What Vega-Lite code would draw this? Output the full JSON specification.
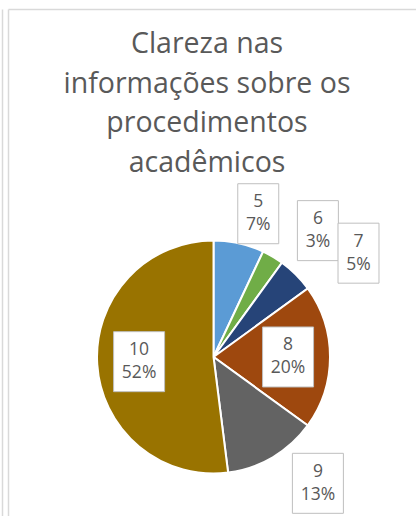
{
  "$schema": "https://vega.github.io/schema/vega-lite/v6.json",
  "width": 408,
  "height": 507,
  "autosize": "none",
  "padding": {"left": 8, "top": 9, "right": 0, "bottom": 0},
  "background": "white",
  "title": {
    "text": ["Clareza nas", "informações sobre os", "procedimentos", "acadêmicos"],
    "orient": "top",
    "anchor": "middle",
    "frame": "group",
    "offset": -168,
    "dx": -5,
    "font": "Open Sans",
    "fontSize": 28.5,
    "fontWeight": "normal",
    "color": "#595959",
    "lineHeight": 39.5
  },
  "config": {
    "view": {"stroke": null},
    "axis": {"domainColor": "#d9d9d9", "domainWidth": 1.5, "ticks": false, "labels": false, "grid": false, "title": null}
  },
  "data": {
    "values": [
      {"nota": 5, "pct": 7},
      {"nota": 6, "pct": 3},
      {"nota": 7, "pct": 5},
      {"nota": 8, "pct": 20},
      {"nota": 9, "pct": 13},
      {"nota": 10, "pct": 52}
    ]
  },
  "transform": [
    {"joinaggregate": [{"op": "sum", "field": "pct", "as": "total"}]},
    {"window": [{"op": "sum", "field": "pct", "as": "cum"}], "sort": [{"field": "nota"}], "frame": [null, 0]},
    {"calculate": "2 * PI * (datum.cum - datum.pct / 2) / datum.total", "as": "mid"},
    {"calculate": "datum.pct >= 15", "as": "inside"},
    {"calculate": "datum.inside ? 0.64 * sin(datum.mid) : 1.76 * sin(datum.mid)", "as": "lx"},
    {"calculate": "datum.inside ? 0.64 * cos(datum.mid) : 1.26 * cos(datum.mid)", "as": "ly"},
    {"calculate": "datum.nota + '\\n' + datum.pct + '%'", "as": "lab"}
  ],
  "resolve": {"axis": {"y": "independent"}},
  "layer": [
    {
      "mark": {"type": "arc", "outerRadius": 116.5, "stroke": "white", "strokeWidth": 2},
      "encoding": {
        "theta": {"field": "pct", "type": "quantitative", "stack": true},
        "order": {"field": "nota", "type": "quantitative"},
        "color": {
          "field": "nota",
          "type": "nominal",
          "scale": {"domain": [5, 6, 7, 8, 9, 10], "range": ["#5B9BD5", "#70AD47", "#264478", "#9E480E", "#636363", "#997300"]},
          "legend": null
        },
        "x": {"datum": 0, "type": "quantitative", "scale": {"domain": [-1.764, 1.738], "nice": false, "zero": false}, "axis": {"orient": "top"}},
        "y": {"datum": 0, "type": "quantitative", "scale": {"domain": [-1.365, 2.987], "nice": false, "zero": false}, "axis": {"orient": "left"}}
      }
    },
    {
      "mark": {"type": "point", "filled": true, "fill": "white", "stroke": "#bfbfbf", "strokeWidth": 1, "opacity": 1, "size": 3600},
      "encoding": {
        "x": {"field": "lx", "type": "quantitative"},
        "y": {"field": "ly", "type": "quantitative", "axis": {"orient": "left", "offset": 6}},
        "shape": {
          "condition": {"test": "datum.pct >= 10", "value": "M-0.85,-1L0.85,-1L0.85,1L-0.85,1Z"},
          "value": "M-0.683,-1L0.683,-1L0.683,1L-0.683,1Z"
        }
      }
    },
    {
      "mark": {"type": "text", "font": "Open Sans", "fontSize": 17.5, "color": "#595959", "lineBreak": "\n", "lineHeight": 23, "baseline": "middle", "align": "center", "dy": -11.5},
      "encoding": {
        "x": {"field": "lx", "type": "quantitative"},
        "y": {"field": "ly", "type": "quantitative", "axis": null},
        "text": {"field": "lab", "type": "nominal"}
      }
    }
  ]
}
